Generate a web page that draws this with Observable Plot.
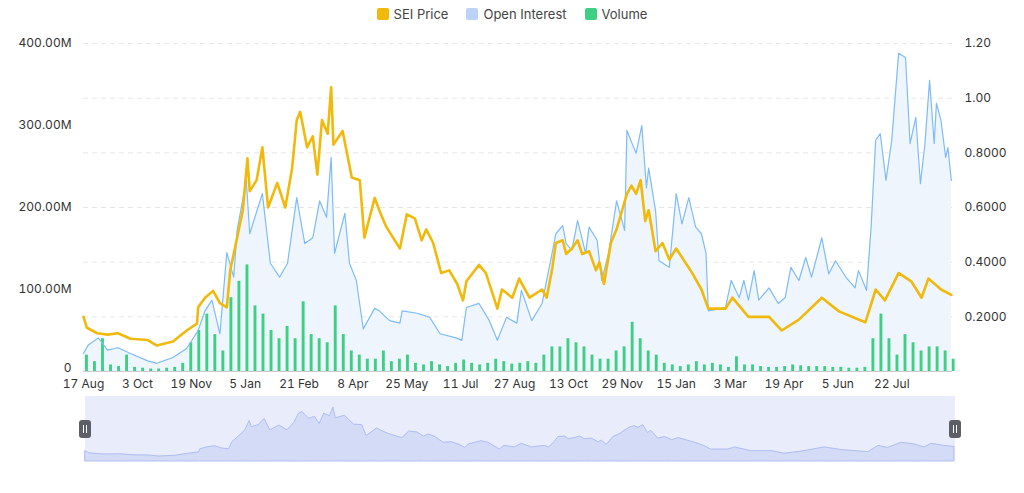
<!DOCTYPE html>
<html><head><meta charset="utf-8">
<script src="https://cdn.jsdelivr.net/npm/d3@7"></script>
<script src="https://cdn.jsdelivr.net/npm/@observablehq/plot@0.6"></script>
<style>
body{margin:0;background:#fff;font-family:Inter,"Noto Sans",sans-serif;width:1024px;height:493px;overflow:hidden;position:relative}
#legend{height:28px;display:flex;justify-content:center;align-items:center;gap:18px;font-size:13px;color:#444}
#legend span{display:inline-flex;align-items:center;gap:5px}
#legend i{display:inline-block;width:12px;height:12px;border-radius:2px}
.h{position:absolute;top:420px;width:12px;height:18px;background:#5c5f66;border-radius:3px}
.h:after{content:"";position:absolute;left:4px;top:5px;height:8px;border-left:1px solid #fff;border-right:1px solid #fff;width:2px}
</style></head><body>
<div id="legend"><span><i style="background:#F0B90B"></i>SEI Price</span><span><i style="background:#bcd3f7"></i>Open Interest</span><span><i style="background:#3ecf85"></i>Volume</span></div>
<div id="main"></div><div id="nav"></div>
<div class="h" style="left:79px"></div><div class="h" style="left:949px"></div>
<script>
const startDate = "2023-08-17";
const priceDay = [0,3,12,21,30,41,56,64,78,90,99,100,106,113,119,125,128,134,139,143,145,151,156,161,169,176,182,186,189,195,200,204,208,213,216,218,226,234,241,245,254,258,264,276,282,289,295,299,305,312,319,326,331,334,345,351,361,365,374,380,389,400,404,409,412,418,421,426,431,435,441,447,450,454,460,465,474,478,482,486,490,493,499,505,511,517,531,539,545,560,566,580,598,609,624,644,659,676,682,691,699,711,722,731,737,748,757];
const priceVal = [0.20,0.16,0.14,0.135,0.14,0.12,0.115,0.095,0.11,0.15,0.175,0.235,0.27,0.295,0.25,0.235,0.37,0.49,0.59,0.78,0.66,0.70,0.82,0.60,0.69,0.60,0.745,0.92,0.95,0.82,0.86,0.72,0.92,0.87,1.04,0.83,0.88,0.71,0.70,0.49,0.635,0.59,0.53,0.45,0.575,0.56,0.48,0.52,0.47,0.36,0.37,0.32,0.26,0.33,0.39,0.36,0.23,0.30,0.27,0.34,0.27,0.30,0.27,0.38,0.47,0.48,0.43,0.45,0.48,0.43,0.44,0.37,0.40,0.32,0.47,0.52,0.65,0.68,0.65,0.70,0.55,0.59,0.44,0.47,0.41,0.45,0.36,0.30,0.23,0.23,0.27,0.20,0.20,0.15,0.19,0.27,0.22,0.19,0.18,0.30,0.26,0.36,0.33,0.27,0.34,0.30,0.28];
const oiDay = [0,4,13,21,30,41,56,64,78,90,100,106,112,119,125,131,134,142,145,156,163,171,178,186,193,200,206,212,216,219,228,232,238,244,254,258,267,276,278,291,302,311,325,330,334,345,354,361,369,378,382,391,400,408,412,418,421,426,431,438,441,448,452,458,465,472,474,482,487,491,493,499,502,511,517,522,528,534,539,543,545,560,565,572,576,580,585,589,598,606,612,617,624,630,635,644,650,656,665,673,676,683,687,691,695,700,705,711,717,721,726,730,734,738,742,744,748,752,754,757];
const oiVal = [22,32,41,26,29,22,13,10,17,28,50,74,87,46,145,115,172,233,168,217,132,115,132,212,156,163,208,188,261,144,193,132,111,52,77,74,62,59,74,71,66,46,41,38,78,83,62,38,66,59,99,62,83,139,168,178,156,148,184,144,176,160,111,144,208,172,294,266,300,224,248,196,135,127,217,180,212,176,168,144,74,78,111,90,111,87,123,87,102,83,90,127,111,139,115,163,119,135,115,102,123,99,176,282,290,233,282,388,383,278,310,229,278,355,278,327,306,261,273,233];
const volWeekly = [20,12,40,8,6,20,5,4,3,3,4,5,10,35,50,70,45,25,90,110,130,80,70,50,40,55,40,85,45,40,35,80,45,25,20,15,15,25,12,15,20,10,8,12,8,6,10,14,10,8,10,15,12,9,10,12,10,20,30,30,40,35,30,20,15,15,25,30,60,40,25,20,10,8,6,8,12,8,10,8,5,18,8,8,6,5,5,6,8,7,6,6,6,5,5,4,4,5,40,70,40,20,45,35,25,30,30,25,15];
const xTickLabels = ["17 Aug","3 Oct","19 Nov","5 Jan","21 Feb","8 Apr","25 May","11 Jul","27 Aug","13 Oct","29 Nov","15 Jan","3 Mar","19 Apr","5 Jun","22 Jul"];
const leftTicks = [0,100,200,300,400];
const rightTicks = [0.2,0.4,0.6,0.8,1.0,1.2];
const rightLabels = ["0.2000","0.4000","0.6000","0.8000","1.00","1.20"];

const s0 = new Date(startDate+"T00:00:00Z");
const D = n => d3.utcDay.offset(s0, n);
const k = 400/1.2;
const price = priceDay.map((d,i)=>({date:D(d), v:priceVal[i]*k}));
const oi = oiDay.map((d,i)=>({date:D(d), v:oiVal[i]}));
const vol = volWeekly.map((v,i)=>({x1:D(i*7), x2:D(i*7+6), v}));
const xTicks = xTickLabels.map((_,i)=>D(i*47));
const xDom = [D(0), D(758)];

const main = Plot.plot({
  width:1024, height:365, marginLeft:83, marginRight:72, marginTop:15, marginBottom:22,
  x:{type:"utc", domain:xDom}, y:{domain:[0,400]},
  style:{fontSize:"12px", fontFamily:"Inter,'Noto Sans',sans-serif", color:"#333"},
  marks:[
    Plot.ruleY(rightTicks.map(t=>t*k), {stroke:"#e6e6e6", strokeDasharray:"5,4"}),
    Plot.areaY(oi, {x:"date", y:"v", fill:"#eef5fd", curve:"linear"}),
    Plot.rectY(vol, {x1:"x1", x2:"x2", y:"v", fill:"#3ecf85", insetLeft:2, insetRight:2}),
    Plot.lineY(oi, {x:"date", y:"v", stroke:"#7fbcf5", strokeWidth:1.2}),
    Plot.lineY(price, {x:"date", y:"v", stroke:"#F0B90B", strokeWidth:2.6}),
    Plot.ruleY([0], {stroke:"#ccc"}),
    Plot.axisX({ticks:xTicks, tickFormat:(d,i)=>xTickLabels[i], tickSize:0, tickPadding:8, fontSize:12}),
    Plot.axisY({ticks:leftTicks.slice(1), tickFormat:d=>d.toFixed(2)+"M", tickSize:0, tickPadding:12, label:null}),
    Plot.axisY({ticks:[0], tickFormat:()=>"0", tickSize:0, tickPadding:12, dy:-3, label:null}),
    Plot.axisY({anchor:"right", ticks:rightTicks.map(t=>t*k), tickFormat:(d,i)=>rightLabels[i], tickSize:0, tickPadding:12, label:null})
  ]
});
document.getElementById("main").append(main);

const nav = Plot.plot({
  width:1024, height:78, marginLeft:85, marginRight:69, marginTop:3, marginBottom:10,
  x:{type:"utc", domain:xDom, axis:null}, y:{domain:[0,1.25*k], axis:null},
  marks:[
    Plot.rectY([0],{x1:xDom[0], x2:xDom[1], y1:0, y2:1.25*k, fill:"#e8ecfb"}),
    Plot.areaY(price, {x:"date", y:"v", fill:"#d3dbf6", stroke:"#b0bdf0", strokeWidth:1})
  ]
});
document.getElementById("nav").append(nav);
</script></body></html>
